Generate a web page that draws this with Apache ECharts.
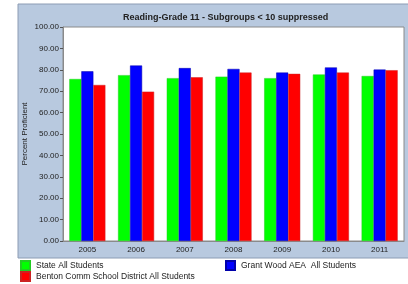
<!DOCTYPE html>
<html>
<head>
<meta charset="utf-8">
<script src="https://cdn.jsdelivr.net/npm/echarts@6/dist/echarts.min.js"></script>
<style>
  html, body { margin: 0; padding: 0; background: #fff; }
  #chart { width: 408px; height: 284px; }
</style>
</head>
<body>
<div id="chart"></div>
<script>
// chart data
const years = ['2005', '2006', '2007', '2008', '2009', '2010', '2011'];
const stateAll = [75.7, 77.5, 76.1, 76.8, 76.1, 77.8, 77.1];
const grantWood = [79.3, 82.0, 80.8, 80.4, 78.7, 81.1, 80.1];
const benton = [72.9, 69.8, 76.5, 78.7, 78.1, 78.7, 79.8];
const seriesNames = ['State All Students', 'Grant Wood AEA  All Students', 'Benton Comm School District All Students'];

const chart = echarts.init(document.getElementById('chart'), null, { renderer: 'canvas' });

const font = 'Liberation Sans, Arial, sans-serif';
const legendText = { fontSize: 8.5, color: '#222', fontFamily: font, padding: [0, 0, 0, 1] };

const option = {
  animation: false,
  backgroundColor: '#fff',
  graphic: [
    {
      type: 'rect',
      z: -10,
      shape: { x: 18, y: 4, width: 392, height: 254 },
      style: { fill: '#b8c9df', stroke: '#8c9cb4', lineWidth: 1 }
    }
  ],
  title: {
    text: 'Reading-Grade 11 - Subgroups < 10 suppressed',
    left: 118,
    top: 8,
    textStyle: { fontSize: 9, fontWeight: 'bold', color: '#222', fontFamily: font }
  },
  legend: [
    {
      data: [seriesNames[0]],
      left: 18, top: 258, padding: [2, 2, 2, 2],
      itemWidth: 9, itemHeight: 9,
      icon: 'rect',
      textStyle: legendText
    },
    {
      data: [seriesNames[1]],
      left: 223, top: 258, padding: [2, 2, 2, 2],
      itemWidth: 9, itemHeight: 9,
      icon: 'rect',
      textStyle: legendText
    },
    {
      data: [seriesNames[2]],
      left: 18, top: 269, padding: [2, 2, 2, 2],
      itemWidth: 9, itemHeight: 9,
      icon: 'rect',
      textStyle: legendText
    }
  ],
  grid: {
    left: 63,
    right: 4,
    top: 27,
    bottom: 43,
    show: true,
    backgroundColor: '#fff',
    borderColor: '#8a8a8a',
    borderWidth: 1
  },
  xAxis: {
    type: 'category',
    data: years,
    axisLine: { lineStyle: { color: '#8a8a8a' } },
    axisTick: { alignWithLabel: true, length: 3, lineStyle: { color: '#555' } },
    axisLabel: { fontSize: 8, color: '#222', fontFamily: font, margin: 5 }
  },
  yAxis: {
    type: 'value',
    min: 0,
    max: 100,
    interval: 10,
    name: 'Percent Proficient',
    nameLocation: 'middle',
    nameGap: 34,
    nameMoveOverlap: false,
    nameTextStyle: { fontSize: 8, color: '#222', fontFamily: font },
    axisLine: { show: true, lineStyle: { color: '#8a8a8a' } },
    axisTick: { show: true, length: 3, lineStyle: { color: '#555' } },
    splitLine: { show: false },
    axisLabel: {
      fontSize: 8, color: '#222', fontFamily: font, margin: 4,
      formatter: (v) => v.toFixed(2)
    }
  },
  series: [
    {
      name: seriesNames[0], type: 'bar', data: stateAll,
      barGap: '0%', barCategoryGap: '26%',
      itemStyle: { color: '#00ff00', borderColor: '#22cc22', borderWidth: 0.5 }
    },
    {
      name: seriesNames[1], type: 'bar', data: grantWood,
      barGap: '0%', barCategoryGap: '26%',
      itemStyle: { color: '#0000ff', borderColor: '#0000aa', borderWidth: 0.5 }
    },
    {
      name: seriesNames[2], type: 'bar', data: benton,
      barGap: '0%', barCategoryGap: '26%',
      itemStyle: { color: '#ff0000', borderColor: '#cc2222', borderWidth: 0.5 }
    }
  ]
};

chart.setOption(option);
</script>
</body>
</html>
